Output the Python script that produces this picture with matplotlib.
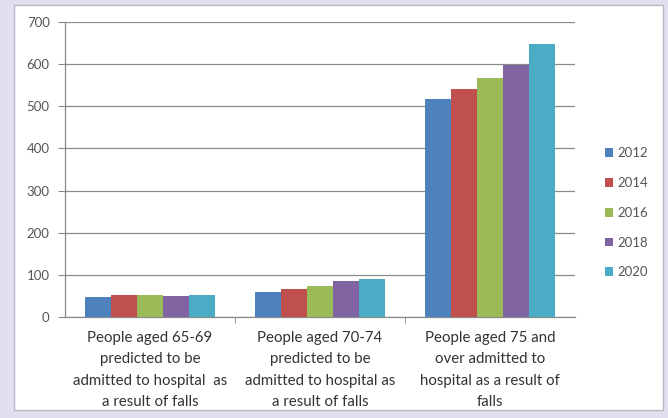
import matplotlib
matplotlib.use("Agg")
import matplotlib.pyplot as plt
import numpy as np
from matplotlib.patches import Rectangle

categories = [
    "People aged 65-69\npredicted to be\nadmitted to hospital  as\na result of falls",
    "People aged 70-74\npredicted to be\nadmitted to hospital as\na result of falls",
    "People aged 75 and\nover admitted to\nhospital as a result of\nfalls",
]
years = ["2012", "2014", "2016", "2018", "2020"]
v2012 = [47, 60, 517]
v2014 = [53, 66, 542]
v2016 = [53, 73, 567]
v2018 = [50, 85, 597]
v2020 = [53, 89, 648]
series = [v2012, v2014, v2016, v2018, v2020]
colors = ["#4F81BD", "#C0504D", "#9BBB59", "#8064A2", "#4BACC6"]
yticks = [0, 100, 200, 300, 400, 500, 600, 700]

plt.rcParams['font.family'] = ['Lato', 'DejaVu Sans']

fig = plt.figure(figsize=(6.68, 4.18), dpi=100)
fig.patch.set_facecolor("#e3dfee")
panel = Rectangle((14/668, 8/418), (663-14)/668, (413-8)/418, transform=fig.transFigure,
                  facecolor="white", edgecolor="#b8b8c8", linewidth=1.0, zorder=-10)
fig.patches.append(panel)

ax = fig.add_axes([65/668, 1-317/418, (575-65)/668, (317-22)/418])
ax.set_zorder(5)
ax.set_facecolor("none")
x = np.arange(len(categories))
n = len(series)
gw = 0.76
bw = gw / n
for i, (vals, c, yr) in enumerate(zip(series, colors, years)):
    ax.bar(x - gw/2 + bw*(i+0.5), vals, width=bw, color=c, label=yr, zorder=3)

ax.set_xlim(-0.5, len(categories)-0.5)
ax.set_ylim(0, 700)
ax.set_yticks(yticks)
ax.set_yticklabels([str(t) for t in yticks], fontsize=9.5, color="#555555")
ax.yaxis.grid(True, color="#8a8a8a", linewidth=0.9, zorder=0)
ax.set_axisbelow(True)
ax.set_xticks(x)
ax.set_xticklabels(categories, fontsize=10.8, color="#333333", linespacing=1.67)
ax.tick_params(axis='x', length=0, pad=10)
ax.set_xticks([0.5, 1.5], minor=True)
ax.tick_params(axis='x', which='minor', length=4, color="#8a8a8a")
ax.tick_params(axis='y', length=5, color="#8a8a8a", pad=6)
for s in ["top", "right"]:
    ax.spines[s].set_visible(False)
for s in ["left", "bottom"]:
    ax.spines[s].set_color("#8a8a8a")
    ax.spines[s].set_linewidth(0.9)

leg = ax.legend(loc="center left", bbox_to_anchor=(1.035, 0.353), frameon=False,
                fontsize=9.5, handlelength=0.65, handleheight=0.65, handletextpad=0.35,
                labelspacing=1.35, labelcolor="#555555")

fig.savefig("out.png", dpi=100, facecolor=fig.get_facecolor())
